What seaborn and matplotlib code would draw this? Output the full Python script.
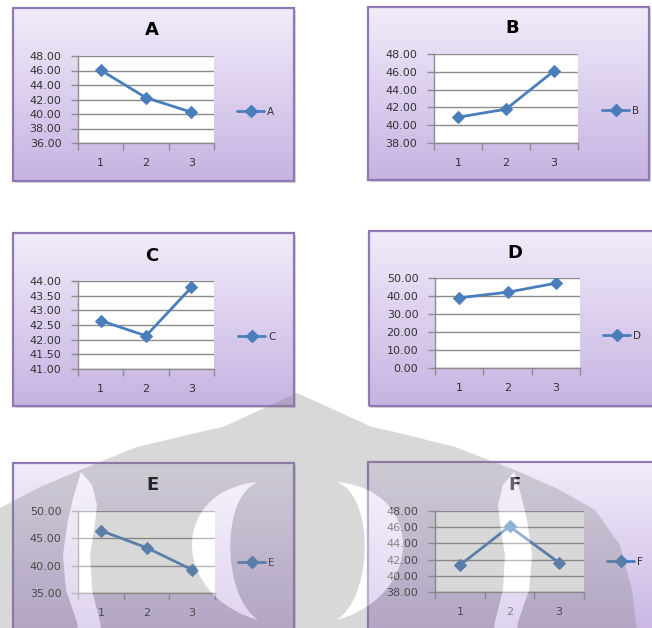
import numpy as np
import pandas as pd
import matplotlib
matplotlib.use("Agg")
import matplotlib.pyplot as plt
from matplotlib.patches import Rectangle, PathPatch
from matplotlib.path import Path
from matplotlib.lines import Line2D
from matplotlib.colors import LinearSegmentedColormap
from matplotlib.ticker import FixedLocator, FormatStrFormatter
import seaborn as sns

# ---- data -------------------------------------------------------------
categories = [1, 2, 3]
series_names = ["A", "B", "C", "D", "E", "F"]

values_a = [46.05, 42.25, 40.25]
values_b = [40.90, 41.80, 46.10]
values_c = [42.65, 42.13, 43.78]
values_d = [39.00, 42.10, 47.10]
values_e = [46.40, 43.30, 39.25]
values_f = [41.30, 46.10, 41.60]

yticks_a = [36, 38, 40, 42, 44, 46, 48]
yticks_b = [38, 40, 42, 44, 46, 48]
yticks_c = [41.0, 41.5, 42.0, 42.5, 43.0, 43.5, 44.0]
yticks_d = [0, 10, 20, 30, 40, 50]
yticks_e = [35, 40, 45, 50]
yticks_f = [38, 40, 42, 44, 46, 48]

all_values = [values_a, values_b, values_c, values_d, values_e, values_f]
all_yticks = [yticks_a, yticks_b, yticks_c, yticks_d, yticks_e, yticks_f]

# ---- layout (pixels, origin top-left) -----------------------------------
W, H = 652, 628
panel_boxes = [(13, 8, 294, 181), (368, 7, 649, 180),
               (13, 233, 294, 406), (369, 231, 655, 406),
               (13, 463, 294, 645), (368, 462, 655, 645)]
plot_boxes = [(78, 56, 214, 143), (434, 54, 578, 143),
              (78, 281, 214, 369), (435, 278, 580, 368),
              (78, 511, 215, 593), (435, 511, 584, 592)]
title_pos = [(152, 30), (512, 28), (152, 256), (515, 253), (152, 485), (515, 485)]
legend_pos = [(237, 112), (602, 111), (238, 337), (603, 336), (238, 563), (607, 562)]

line_color = "#4a7ebb"
grid_color = "#8c8c8c"
text_color = "#333333"
border_color = "#8f78b6"

sns.set_style("white")
plt.rcParams["font.family"] = ["DejaVu Sans"]

fig = plt.figure(figsize=(W / 100, H / 100), dpi=100)
fig.patch.set_facecolor("white")


def frac(box):
    x0, y0, x1, y1 = box
    return [x0 / W, 1 - y1 / H, (x1 - x0) / W, (y1 - y0) / H]


panel_cmap = LinearSegmentedColormap.from_list(
    "panel", ["#c6b3e1", "#dccfee", "#f1ecf9"])
gradient = np.linspace(0, 1, 256).reshape(-1, 1)

for i, name in enumerate(series_names):
    values = all_values[i]
    yticks = all_yticks[i]

    # soft shadow + gradient background of the chart box
    x0, y0, x1, y1 = panel_boxes[i]
    sh = fig.add_axes(frac((x0 + 2, y0 + 2, x1 + 2, y1 + 2)), zorder=0)
    sh.set_facecolor("#dadada")
    sh.set_xticks([]); sh.set_yticks([])
    for s in sh.spines.values():
        s.set_visible(False)

    bg = fig.add_axes(frac(panel_boxes[i]), zorder=1)
    bg.imshow(gradient, aspect="auto", extent=[0, 1, 0, 1], cmap=panel_cmap,
              origin="lower")
    bg.set_xlim(0, 1); bg.set_ylim(0, 1)
    bg.axis("off")
    bg.add_patch(Rectangle((0, 0), 1, 1, transform=bg.transAxes, fill=False,
                           edgecolor=border_color, lw=1.6, clip_on=False))

    # plot area
    ax = fig.add_axes(frac(plot_boxes[i]), zorder=2)
    ax.set_facecolor("white")
    df = pd.DataFrame({"pos": np.arange(len(categories)),
                       "value": values,
                       "series": name})
    sns.lineplot(data=df, x="pos", y="value", hue="series",
                 palette=[line_color], marker="D", markersize=6,
                 markeredgecolor=line_color, linewidth=2, ax=ax,
                 legend=False, zorder=3)

    ax.set_xlim(-0.5, len(categories) - 0.5)
    ax.set_ylim(yticks[0], yticks[-1])
    ax.set_yticks(yticks)
    ax.yaxis.set_major_formatter(FormatStrFormatter("%.2f"))
    ax.grid(axis="y", color=grid_color, lw=1)
    ax.grid(axis="x", visible=False)

    ax.xaxis.set_major_locator(FixedLocator(np.arange(-0.5, len(categories), 1.0)))
    ax.set_xticklabels([])
    ax.xaxis.set_minor_locator(FixedLocator(np.arange(len(categories))))
    ax.set_xticklabels([str(c) for c in categories], minor=True)
    ax.tick_params(axis="x", which="major", direction="out", length=5,
                   width=1, color=grid_color, bottom=True)
    ax.tick_params(axis="x", which="minor", length=0, pad=11,
                   labelsize=8, labelcolor=text_color)
    ax.tick_params(axis="y", which="major", direction="out", length=5,
                   width=1, color=grid_color, left=True, pad=7,
                   labelsize=8, labelcolor=text_color)
    ax.set_xlabel(""); ax.set_ylabel("")
    for side in ("top", "right"):
        ax.spines[side].set_visible(False)
    for side in ("left", "bottom"):
        ax.spines[side].set_color(grid_color)
        ax.spines[side].set_linewidth(1)

    tx, ty = title_pos[i]
    fig.text(tx / W, 1 - ty / H, name, ha="center", va="center",
             fontsize=13, fontweight="bold", color="black", zorder=5)

    lx, ly = legend_pos[i]
    handle = Line2D([], [], color=line_color, lw=2, marker="D",
                    markersize=6, markeredgecolor=line_color)
    ax.legend(handles=[handle], labels=[name], loc="center left",
              bbox_to_anchor=(lx / W, 1 - ly / H),
              bbox_transform=fig.transFigure, frameon=False,
              handlelength=2.6, handletextpad=0.3, borderpad=0,
              borderaxespad=0, fontsize=7.5, labelcolor=text_color)

# ---- watermark emblem across the lower half -----------------------------
wm = fig.add_axes([0, 0, 1, 1], zorder=20)
wm.set_xlim(0, W); wm.set_ylim(H, 0)
wm.axis("off")
wm.patch.set_alpha(0)

axis_x = 595.0

dome_left = [(297, 393), (223, 427), (200, 432), (137, 447), (80, 470),
             (40, 487), (0, 508), (-25, 545), (-38, 590), (-45, 700)]
dome_right = [(372, 427), (395, 432), (455, 447), (515, 470), (558, 489),
              (595, 510), (620, 545), (632, 590), (638, 640), (642, 700)]
dome = dome_left + dome_right[::-1]

light_left = [(81, 472), (74, 495), (68, 520), (63, 555), (66, 590),
              (77, 622), (82, 660), (106, 660), (100, 622), (92, 590),
              (90, 555), (94, 530), (97, 505), (92, 485)]
light_right = [(axis_x - x, y) for x, y in light_left]


def bezier(p0, p1, p2, p3, n=30):
    t = np.linspace(0, 1, n)[:, None]
    p0, p1, p2, p3 = map(np.asarray, (p0, p1, p2, p3))
    return ((1 - t) ** 3 * p0 + 3 * (1 - t) ** 2 * t * p1
            + 3 * (1 - t) * t ** 2 * p2 + t ** 3 * p3)


outer = bezier((258, 482), (170, 490), (170, 595), (258, 620))
inner = bezier((258, 620), (221, 595), (221, 495), (258, 482))[1:-1]
inner_left = [tuple(p) for p in np.vstack([outer, inner])]
inner_right = [(axis_x - x, y) for x, y in inner_left]


def signed_area(pts):
    a = np.asarray(pts, float)
    x, y = a[:, 0], a[:, 1]
    return 0.5 * np.sum(x * np.roll(y, -1) - np.roll(x, -1) * y)


def ring(pts, positive):
    pts = list(pts)
    if (signed_area(pts) > 0) != positive:
        pts = pts[::-1]
    verts = pts + [pts[0]]
    codes = [Path.MOVETO] + [Path.LINETO] * (len(pts) - 1) + [Path.CLOSEPOLY]
    return verts, codes


verts, codes = ring(dome, True)
for hole in (light_left, light_right, inner_left, inner_right):
    v, c = ring(hole, False)
    verts += v
    codes += c

wm.add_patch(PathPatch(Path(verts, codes), facecolor="#7f7f7f",
                       edgecolor="none", alpha=0.3))
for shape in (light_left, light_right, inner_left, inner_right):
    v, c = ring(shape, True)
    wm.add_patch(PathPatch(Path(v, c), facecolor="white", edgecolor="none",
                           alpha=0.4))

fig.savefig("out.png", dpi=100, facecolor="white")
